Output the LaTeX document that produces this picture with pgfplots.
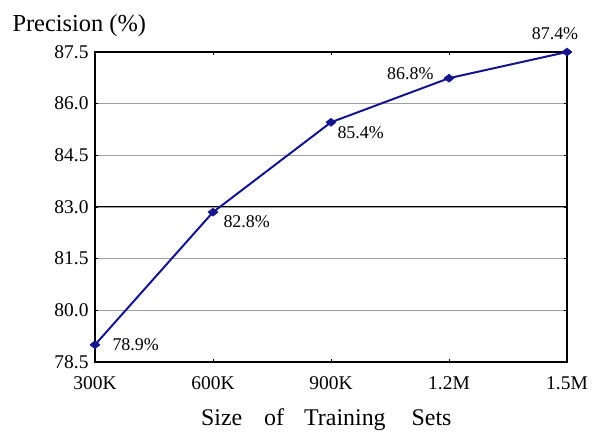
\documentclass[border=0pt]{standalone}
\usepackage{fontspec}
\setmainfont{Liberation Serif}
\usepackage{pgfplots}
\pgfplotsset{compat=1.18}
\definecolor{navyline}{RGB}{22,22,140}
\begin{document}
\begin{tikzpicture}
\begin{axis}[
  scale only axis, width=472bp, height=310bp,
  at={(0,0)}, anchor=south west,
  xmin=0, xmax=4, ymin=78.5, ymax=87.5,
  xtick={0,1,2,3,4}, xticklabels={300K,600K,900K,1.2M,1.5M},
  ytick={78.5,80,81.5,83,84.5,86,87.5},
  yticklabels={78.5,80.0,81.5,83.0,84.5,86.0,87.5},
  extra y ticks={83}, extra y tick labels={},
  extra y tick style={grid style={black, line width=1bp}},
  ymajorgrids, grid style={gray!75, line width=1.3bp},
  tick align=inside, major tick length=3bp,
  tick style={black, line width=0.8bp},
  axis line style={black, line width=1.1bp},
  ticklabel style={font=\fontsize{19.5}{21}\selectfont},
  xticklabel style={yshift=-11bp},
  yticklabel style={xshift=-3bp},
  xlabel={Size\hspace{22bp}of\hspace{20bp}Training\hspace{26bp}Sets},
  xlabel style={font=\fontsize{24}{26}\selectfont, at={(rel axis cs:0.49,0)}, anchor=base, yshift=-63bp},
  clip=false,
]
\addplot[navyline, line width=2bp, mark=square*, mark size=3.6bp, mark options={fill=navyline, draw=navyline, line width=0.5bp, yscale=0.8, rotate=45}] coordinates {
  (0,79.0) (1,82.85) (2,85.46) (3,86.74) (4,87.5)
};
\node[anchor=base west, font=\fontsize{18}{20}\selectfont] at (axis cs:0,79.0) [xshift=14bp, yshift=-6bp] {78.9\%};
\node[anchor=base west, font=\fontsize{18}{20}\selectfont] at (axis cs:1,82.85) [xshift=7bp, yshift=-15bp] {82.8\%};
\node[anchor=base west, font=\fontsize{18}{20}\selectfont] at (axis cs:2,85.46) [xshift=3bp, yshift=-16bp] {85.4\%};
\node[anchor=base east, font=\fontsize{18}{20}\selectfont] at (axis cs:3,86.74) [xshift=-12bp, yshift=-1bp] {86.8\%};
\node[anchor=base, font=\fontsize{18}{20}\selectfont] at (axis cs:4,87.5) [xshift=-12bp, yshift=12bp] {87.4\%};
\node[anchor=base west, font=\fontsize{24.5}{26}\selectfont] at (rel axis cs:0,1) [xshift=-86bp, yshift=20bp] {Precision (\%)};
\end{axis}
\path[use as bounding box] (-95bp,-69bp) rectangle (505bp,362bp);
\end{tikzpicture}
\end{document}
